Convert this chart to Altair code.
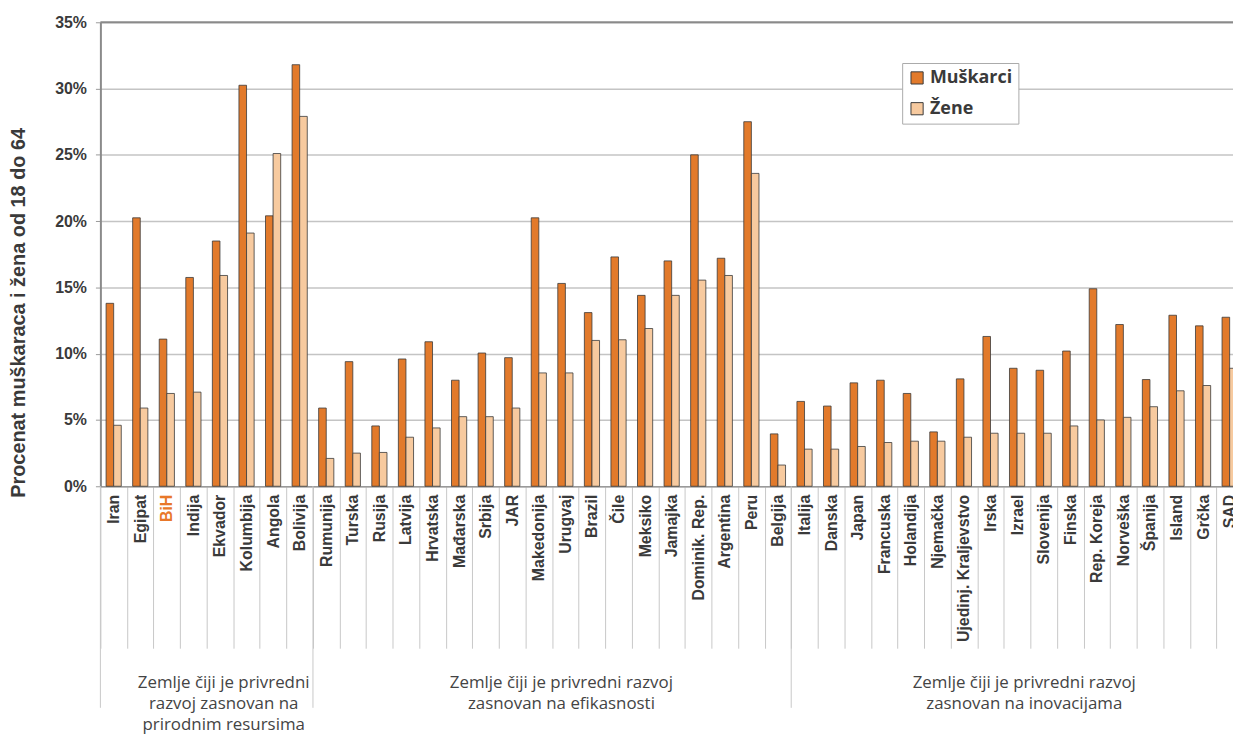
import altair as alt
import pandas as pd

countries = ["Iran", "Egipat", "BiH", "Indija", "Ekvador", "Kolumbija", "Angola", "Bolivija",
             "Rumunija", "Turska", "Rusija", "Latvija", "Hrvatska", "Mađarska", "Srbija", "JAR",
             "Makedonija", "Urugvaj", "Brazil", "Čile", "Meksiko", "Jamajka", "Dominik. Rep.",
             "Argentina", "Peru", "Belgija", "Italija", "Danska", "Japan", "Francuska", "Holandija",
             "Njemačka", "Ujedinj. Kraljevstvo", "Irska", "Izrael", "Slovenija", "Finska",
             "Rep. Koreja", "Norveška", "Španija", "Island", "Grčka", "SAD"]

muskarci = [13.8, 20.25, 11.1, 15.75, 18.5, 30.25, 20.4, 31.8,
            5.9, 9.4, 4.55, 9.6, 10.9, 8.0, 10.05, 9.7,
            20.25, 15.3, 13.1, 17.3, 14.4, 17.0, 25.0,
            17.2, 27.5, 3.95, 6.4, 6.05, 7.8, 8.0, 7.0,
            4.1, 8.1, 11.3, 8.9, 8.75, 10.2,
            14.9, 12.2, 8.05, 12.9, 12.1, 12.75]

zene = [4.6, 5.9, 7.0, 7.1, 15.9, 19.1, 25.1, 27.9,
        2.1, 2.5, 2.55, 3.7, 4.4, 5.25, 5.25, 5.9,
        8.55, 8.55, 11.0, 11.05, 11.9, 14.4, 15.55,
        15.9, 23.6, 1.6, 2.8, 2.8, 3.0, 3.3, 3.4,
        3.4, 3.7, 4.0, 4.0, 4.0, 4.55,
        5.0, 5.2, 6.0, 7.2, 7.6, 8.9]

series = ["Muškarci", "Žene"]
colors = ["#E27A2B", "#F7CA9F"]
y_ticks = [0, 5, 10, 15, 20, 25, 30, 35]

group_starts = ["Iran", "Rumunija", "Italija"]
group_labels = [
    ("Ekvador", 0.64, "Zemlje čiji je privredni\nrazvoj zasnovan na\nprirodnim resursima"),
    ("Urugvaj", 0.35, "Zemlje čiji je privredni razvoj\nzasnovan na efikasnosti"),
    ("Izrael", 0.77, "Zemlje čiji je privredni razvoj\nzasnovan na inovacijama"),
]

df = pd.DataFrame({"zemlja": countries, "Muškarci": muskarci, "Žene": zene})
long = df.melt(id_vars="zemlja", var_name="pol", value_name="vrijednost")

AX_FONT = "Liberation Sans"
TXT = "#3a3a3a"

x_scale = alt.Scale(domain=countries, range=[0, 1150], paddingInner=0, paddingOuter=0)

bars = alt.Chart(long).mark_bar(stroke="#3a3a3a", strokeWidth=0.8).encode(
    x=alt.X("zemlja:N", sort=countries, scale=x_scale,
            axis=alt.Axis(title=None, labelAngle=-90, labelFont=AX_FONT, labelFontSize=16,
                          labelFontWeight="bold",
                          labelColor=alt.condition("datum.value == 'BiH'", alt.value("#E8782A"), alt.value(TXT)),
                          tickBand="extent", tickSize=163, tickColor="#C8C8C8", tickWidth=1,
                          labelPadding=-155, labelOverlap=False, labelLimit=300,
                          domainColor="#9a9a9a", domainWidth=1.5)),
    xOffset=alt.XOffset("pol:N", sort=series, scale=alt.Scale(paddingInner=0, paddingOuter=0.75)),
    y=alt.Y("vrijednost:Q", scale=alt.Scale(domain=[0, 35], nice=False),
            axis=alt.Axis(title="Procenat muškaraca i žena od 18 do 64", values=y_ticks,
                          labelExpr="datum.value + '%'", labelFont=AX_FONT, labelFontSize=16,
                          labelFontWeight="bold", labelColor=TXT, labelPadding=9,
                          tickSize=5, tickColor="#9a9a9a",
                          titleFont=AX_FONT, titleFontSize=20, titleFontWeight="bold",
                          titleColor=TXT, titleX=-82, titleY=292, titleAngle=270,
                          titleAlign="center", titleBaseline="middle",
                          grid=True, gridColor="#C4C4C4", gridWidth=1.5,
                          domainColor="#8a8a8a", domainWidth=2)),
    color=alt.Color("pol:N", sort=series, scale=alt.Scale(domain=series, range=colors),
                    legend=alt.Legend(title=None, orient="none", legendX=807, legendY=41,
                                      symbolType="square", symbolSize=150,
                                      symbolStrokeColor="#3a3a3a", symbolStrokeWidth=1,
                                      labelFont="Open Sans", labelFontSize=18, labelFontWeight="bold",
                                      labelColor=TXT, fillColor="white", strokeColor="#aaaaaa",
                                      padding=6, rowPadding=13, symbolOffset=0, labelOffset=4)),
)

top_rule = alt.Chart(pd.DataFrame({"v": [35]})).mark_rule(color="#8a8a8a", strokeWidth=2).encode(
    y=alt.Y("v:Q")
)

group_rules = alt.Chart(pd.DataFrame({"zemlja": group_starts})).mark_rule(
    color="#C8C8C8", strokeWidth=1
).encode(
    x=alt.X("zemlja:N", bandPosition=0),
    y=alt.value(467),
    y2=alt.value(690),
)


def group_text(anchor, bp, text):
    return alt.Chart(pd.DataFrame({"zemlja": [anchor], "t": [text]})).mark_text(
        font="Open Sans", fontSize=17, color="#444444", lineBreak="\n", lineHeight=21,
        align="center", baseline="alphabetic"
    ).encode(
        x=alt.X("zemlja:N", bandPosition=bp),
        y=alt.value(670),
        text="t:N",
    )


texts = [group_text(a, b, t) for a, b, t in group_labels]

chart = alt.layer(bars, top_rule, group_rules, *texts).properties(
    width=1140, height=467,
    autosize=alt.AutoSizeParams(type="none"),
    padding={"left": 93, "top": 12, "right": 0, "bottom": 249},
    background="white",
).configure_view(stroke=None)

chart.save("out.html", embed_options={"renderer": "svg", "actions": False})
